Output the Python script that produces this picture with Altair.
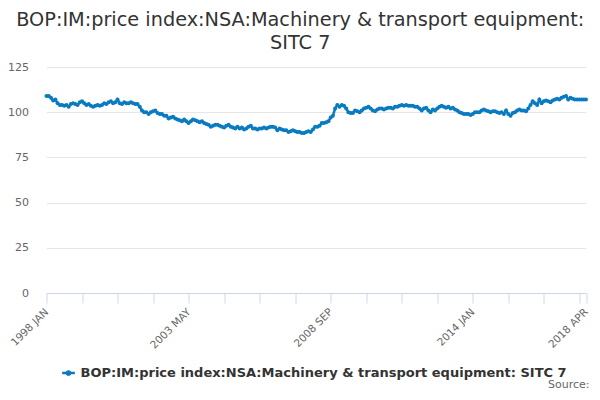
import altair as alt
import pandas as pd

SERIES = "BOP:IM:price index:NSA:Machinery & transport equipment: SITC 7"
MONTHS = ["JAN", "FEB", "MAR", "APR", "MAY", "JUN", "JUL", "AUG", "SEP", "OCT", "NOV", "DEC"]

v1998 = [109, 109, 108, 106.5, 107, 105, 104, 104, 103.5, 104, 103, 104.5]
v1999 = [105, 104.5, 104, 105.5, 106, 105, 104, 104.5, 103.5, 103, 103.5, 104]
v2000 = [103.5, 104, 105, 104.5, 105.5, 106, 105, 105.5, 107, 105, 104.5, 105.5]
v2001 = [105, 105, 105.5, 105, 104.5, 104.5, 103, 101, 100, 100, 99, 100]
v2002 = [100.5, 101, 99.5, 99, 99, 98, 98, 96.5, 97, 97.5, 96.5, 96]
v2003 = [95.5, 95, 96, 95, 94, 95, 96, 95.5, 95, 94.5, 95, 94]
v2004 = [93.5, 93, 92, 92.5, 93, 93, 92.5, 92, 91.5, 92.5, 93, 92]
v2005 = [91.5, 91, 92, 91, 91.5, 90.5, 91, 92, 92.5, 91, 91, 90.5]
v2006 = [91, 91, 91.5, 91, 91.5, 92, 92, 91.5, 90, 91, 90.5, 90]
v2007 = [90, 89, 89.5, 90, 89.5, 89, 89, 88.5, 88.5, 89, 89.5, 89]
v2008 = [90.5, 92, 92, 92.5, 94, 94, 94.5, 95, 97, 98, 102, 104]
v2009 = [103, 104, 103.5, 102, 100, 99.5, 99.5, 101, 100.5, 100, 101, 102]
v2010 = [102.5, 103, 102, 101, 100.5, 101.5, 102, 102, 101.5, 102, 102.5, 102.5]
v2011 = [102, 103, 103, 103.5, 104, 103.5, 104, 103.5, 103.5, 103.5, 103, 103]
v2012 = [102, 101, 102, 102.5, 101, 100, 101.5, 101, 102, 103, 103.5, 103]
v2013 = [102.5, 103, 102, 102.5, 101.5, 101, 100, 99.5, 99, 99, 99, 98.5]
v2014 = [99, 100, 100, 100, 101, 101.5, 101, 100.5, 100, 100.5, 100.5, 100]
v2015 = [99.5, 100, 99, 101, 99, 98, 99.5, 100, 101, 101.5, 101, 101]
v2016 = [100.5, 102, 104, 106, 105, 104, 107, 105, 106, 106.5, 106, 105.5]
v2017 = [106.5, 107, 107.5, 107, 108, 108.5, 109, 107, 108, 107.5, 107, 107]
v2018 = [107, 107, 107, 107]

yearly = [v1998, v1999, v2000, v2001, v2002, v2003, v2004, v2005, v2006, v2007,
          v2008, v2009, v2010, v2011, v2012, v2013, v2014, v2015, v2016, v2017, v2018]

labels, values = [], []
for i, vals in enumerate(yearly):
    for j, v in enumerate(vals):
        labels.append(f"{1998 + i} {MONTHS[j]}")
        values.append(v)

df = pd.DataFrame({"month": labels, "value": values, "series": SERIES})

tick_idx = list(range(0, len(labels), 16)) + [len(labels) - 1]
tick_vals = [labels[i] for i in tick_idx]
shown = ["1998 JAN", "2003 MAY", "2008 SEP", "2014 JAN", "2018 APR"]
label_expr = "indexof([" + ",".join(f"'{s}'" for s in shown) + "], datum.value) >= 0 ? datum.value : ''"

FONT = "DejaVu Sans"
BLUE = "#0b7bc1"

x = alt.X("month:O", sort=None, title=None,
          scale=alt.Scale(type="point", padding=0),
          axis=alt.Axis(values=tick_vals, labelExpr=label_expr, labelAngle=-45,
                        labelAlign="right", labelBaseline="middle", labelPadding=7,
                        labelColor="#666666", labelFontSize=10.5, labelFont=FONT,
                        domainColor="#ccd6eb", tickColor="#ccd6eb", tickSize=10,
                        grid=False, labelOverlap=False, labelFlush=False))
y = alt.Y("value:Q", title=None,
          scale=alt.Scale(domain=[0, 125], nice=False, zero=True),
          axis=alt.Axis(values=[0, 25, 50, 75, 100, 125], domain=False, ticks=False,
                        labelPadding=18, labelColor="#666666", labelFontSize=11,
                        labelFont=FONT, gridColor="#e6e6e6"))

color = alt.Color("series:N", scale=alt.Scale(range=[BLUE]),
                  legend=alt.Legend(title=None, orient="none", legendX=14, legendY=298,
                                    labelFont=FONT, labelFontSize=13, labelFontWeight="bold",
                                    labelColor="#333333", labelLimit=0, symbolStrokeWidth=2.5,
                                    symbolType="M-1,0H1M-0.25,0A0.25,0.25 0 1,1 0.25,0A0.25,0.25 0 1,1 -0.25,0",
                                    symbolSize=160, symbolFillColor=BLUE, symbolStrokeColor=BLUE))

line = alt.Chart(df).mark_line(strokeWidth=2.5).encode(x=x, y=y, color=color)
pts = alt.Chart(df).mark_point(filled=True, size=16, opacity=1).encode(
    x=x, y=y, color=alt.Color("series:N", legend=None, scale=alt.Scale(range=[BLUE])))

source = alt.Chart(pd.DataFrame({"t": ["Source:"]})).mark_text(
    align="right", baseline="alphabetic", font=FONT, fontSize=11, color="#666666"
).encode(x=alt.value(543), y=alt.value(321), text="t:N")

chart = alt.layer(line, pts, source).properties(
    width=539.5, height=226,
    title=alt.TitleParams(
        text=["BOP:IM:price index:NSA:Machinery & transport equipment:", "SITC 7"],
        font=FONT, fontSize=19.3, fontWeight="normal", color="#333333",
        anchor="middle", dx=-16, offset=8, lineHeight=23),
    autosize=alt.AutoSizeParams(type="none"),
    padding={"left": 38.5, "top": 59, "right": 6, "bottom": 99},
).configure_view(stroke=None)

chart.save("out.html", embed_options={"renderer": "svg", "actions": False})
